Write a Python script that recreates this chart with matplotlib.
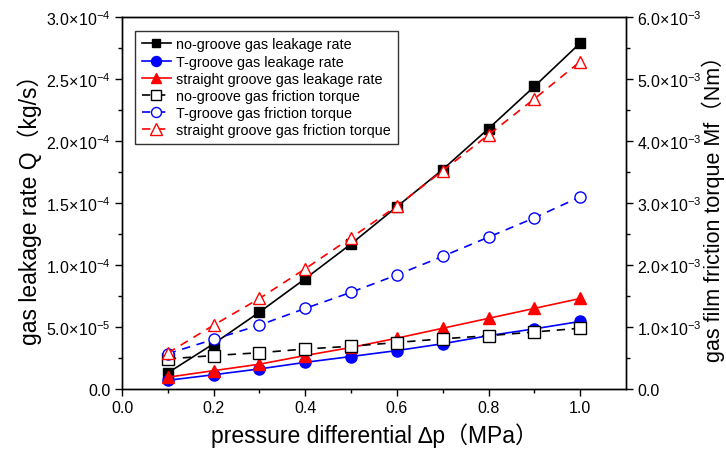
import math
import matplotlib
matplotlib.use("Agg")
import matplotlib.pyplot as plt
from matplotlib.ticker import FixedLocator, FuncFormatter, MultipleLocator

plt.rcParams['font.family'] = ['Liberation Sans', 'DejaVu Sans']
plt.rcParams['mathtext.fontset'] = 'custom'
plt.rcParams['mathtext.rm'] = 'Liberation Sans'
plt.rcParams['mathtext.it'] = 'Liberation Sans'

dp = [0.1, 0.2, 0.3, 0.4, 0.5, 0.6, 0.7, 0.8, 0.9, 1.0]
leak_none = [1.3e-5, 3.65e-5, 6.2e-5, 8.9e-5, 1.17e-4, 1.47e-4, 1.77e-4, 2.10e-4, 2.44e-4, 2.79e-4]
leak_T = [0.7e-5, 1.15e-5, 1.62e-5, 2.15e-5, 2.62e-5, 3.1e-5, 3.65e-5, 4.3e-5, 4.85e-5, 5.45e-5]
leak_S = [0.95e-5, 1.48e-5, 2.0e-5, 2.7e-5, 3.35e-5, 4.1e-5, 4.9e-5, 5.7e-5, 6.5e-5, 7.3e-5]
torq_none = [0.485e-3, 0.54e-3, 0.585e-3, 0.645e-3, 0.69e-3, 0.75e-3, 0.81e-3, 0.86e-3, 0.92e-3, 0.98e-3]
torq_T = [0.57e-3, 0.80e-3, 1.03e-3, 1.30e-3, 1.56e-3, 1.84e-3, 2.14e-3, 2.45e-3, 2.76e-3, 3.1e-3]
torq_S = [0.58e-3, 1.03e-3, 1.46e-3, 1.94e-3, 2.44e-3, 2.95e-3, 3.52e-3, 4.10e-3, 4.68e-3, 5.28e-3]

labels = ["no-groove gas leakage rate", "T-groove gas leakage rate",
          "straight groove gas leakage rate", "no-groove gas friction torque",
          "T-groove gas friction torque", "straight groove gas friction torque"]

fig = plt.figure(figsize=(7.26, 4.6), dpi=100)
ax = fig.add_axes([122/726, 1-390/460, (626-122)/726, (390-18)/460])
ax2 = ax.twinx()

ms = 7
lw = 1.2
dash = (0, (5, 4))
h1, = ax.plot(dp, leak_none, color='black', lw=lw, marker='s', ms=ms, mfc='black', mec='black')
h2, = ax.plot(dp, leak_T, color='blue', lw=lw, marker='o', ms=ms+1, mfc='blue', mec='blue')
h3, = ax.plot(dp, leak_S, color='red', lw=lw, marker='^', ms=ms+1, mfc='red', mec='red')
h4, = ax2.plot(dp, torq_none, color='black', lw=lw, ls=dash, marker='s', ms=ms+1, mfc='white', mec='black')
h5, = ax2.plot(dp, torq_T, color='blue', lw=lw, ls=dash, marker='o', ms=ms+1, mfc='white', mec='blue')
h6, = ax2.plot(dp, torq_S, color='red', lw=lw, ls=dash, marker='^', ms=ms+2, mfc='white', mec='red')

ax.set_xlim(0, 1.1)
ax.set_ylim(0, 3.0e-4)
ax2.set_ylim(0, 6.0e-3)

def sci(v, pos):
    if v == 0:
        return '0.0'
    e = int(math.floor(math.log10(abs(v)) + 1e-9))
    m = v / 10**e
    return r'$\mathregular{%.1f\!\times\!10^{%d}}$' % (m, e)

ax.yaxis.set_major_locator(MultipleLocator(5e-5))
ax.yaxis.set_minor_locator(MultipleLocator(2.5e-5))
ax.yaxis.set_major_formatter(FuncFormatter(sci))
ax2.yaxis.set_major_locator(MultipleLocator(1e-3))
ax2.yaxis.set_minor_locator(MultipleLocator(5e-4))
ax2.yaxis.set_major_formatter(FuncFormatter(sci))
ax.xaxis.set_major_locator(FixedLocator([0.0, 0.2, 0.4, 0.6, 0.8, 1.0]))
ax.xaxis.set_minor_locator(FixedLocator([0.1, 0.3, 0.5, 0.7, 0.9]))
ax.xaxis.set_major_formatter(FuncFormatter(lambda v, p: '%.1f' % v))

for a in (ax, ax2):
    a.tick_params(which='major', direction='out', length=5, width=1, labelsize=11.5, color='black', pad=3)
    a.tick_params(which='minor', direction='out', length=3, width=1, color='black')
    for s in a.spines.values():
        s.set_linewidth(1.0)
ax.tick_params(axis='y', which='both', right=False)
ax2.tick_params(axis='y', which='both', left=False)

lab_font = ['Liberation Sans', 'Noto Sans CJK SC', 'DejaVu Sans']
ax.set_xlabel('pressure differential \u2206p\uff08MPa\uff09', fontsize=16.5, family=lab_font, labelpad=5)
ax.set_ylabel('gas leakage rate Q\uff08kg/s\uff09', fontsize=16.5, family=lab_font, labelpad=3)
ax2.set_ylabel('gas film friction torque Mf\uff08Nm\uff09', fontsize=15.5, family=lab_font, labelpad=0)

leg = ax2.legend([h1, h2, h3, h4, h5, h6], labels, loc='upper left',
                 bbox_to_anchor=(0.012, 0.982), fontsize=10.4, frameon=True, fancybox=False,
                 edgecolor='black', handlelength=2.0, handletextpad=0.4, labelspacing=0.22,
                 borderpad=0.45, markerscale=0.9)
leg.get_frame().set_linewidth(1.0)

fig.savefig('out.png', dpi=100)
